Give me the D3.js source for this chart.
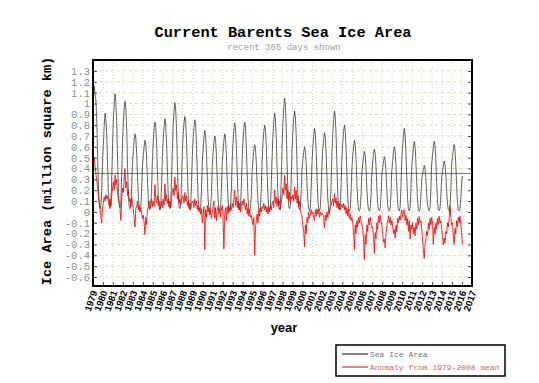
<!DOCTYPE html>
<html>
<head>
<meta charset="utf-8">
<script src="https://cdn.jsdelivr.net/npm/d3@7"></script>
<style>
  body { margin: 0; background: #fff; }
  svg { display: block; }
</style>
</head>
<body>
<svg id="chart" width="539" height="383"></svg>
<script>
const startYear = 1979;
const yearTicks = [1979, 1980, 1981, 1982, 1983, 1984, 1985, 1986, 1987, 1988, 1989,
  1990, 1991, 1992, 1993, 1994, 1995, 1996, 1997, 1998, 1999, 2000, 2001, 2002, 2003,
  2004, 2005, 2006, 2007, 2008, 2009, 2010, 2011, 2012, 2013, 2014, 2015, 2016, 2017];
const valueTicks = [-0.6, -0.5, -0.4, -0.3, -0.2, -0.1, 0, 0.1, 0.2, 0.3, 0.4, 0.5,
  0.6, 0.7, 0.8, 0.9, 1, 1.1, 1.2, 1.3];
const meanArea = 0.355;

// monthly sea ice area (million km2), one row per year, Jan 1979 .. Jan 2016
const iceArea = [
  1.10, 1.16, 1.08, 1.03, 0.85, 0.55, 0.25, 0.08, 0.03, 0.05, 0.20, 0.45, // 1979
  0.62, 0.80, 0.91, 0.86, 0.72, 0.45, 0.20, 0.06, 0.03, 0.06, 0.30, 0.60, // 1980
  0.85, 0.98, 1.09, 1.02, 0.82, 0.50, 0.22, 0.07, 0.04, 0.08, 0.35, 0.65, // 1981
  0.82, 0.95, 1.02, 0.96, 0.78, 0.45, 0.18, 0.05, 0.03, 0.05, 0.22, 0.45, // 1982
  0.55, 0.66, 0.72, 0.68, 0.55, 0.35, 0.15, 0.04, 0.02, 0.04, 0.20, 0.42, // 1983
  0.52, 0.60, 0.66, 0.62, 0.50, 0.30, 0.12, 0.03, 0.02, 0.05, 0.22, 0.48, // 1984
  0.65, 0.76, 0.83, 0.78, 0.62, 0.38, 0.16, 0.04, 0.02, 0.05, 0.25, 0.50, // 1985
  0.68, 0.78, 0.86, 0.80, 0.64, 0.40, 0.17, 0.05, 0.03, 0.06, 0.30, 0.58, // 1986
  0.80, 0.92, 1.01, 0.95, 0.76, 0.45, 0.18, 0.05, 0.03, 0.06, 0.28, 0.55, // 1987
  0.72, 0.82, 0.88, 0.83, 0.66, 0.40, 0.16, 0.04, 0.02, 0.05, 0.26, 0.52, // 1988
  0.68, 0.78, 0.85, 0.80, 0.62, 0.36, 0.14, 0.03, 0.02, 0.04, 0.20, 0.45, // 1989
  0.58, 0.68, 0.75, 0.70, 0.55, 0.32, 0.12, 0.03, 0.01, 0.03, 0.18, 0.42, // 1990
  0.55, 0.64, 0.70, 0.66, 0.52, 0.30, 0.12, 0.03, 0.01, 0.04, 0.20, 0.45, // 1991
  0.56, 0.66, 0.72, 0.67, 0.52, 0.30, 0.11, 0.03, 0.01, 0.04, 0.22, 0.48, // 1992
  0.64, 0.75, 0.82, 0.78, 0.60, 0.36, 0.14, 0.04, 0.02, 0.05, 0.24, 0.50, // 1993
  0.66, 0.77, 0.83, 0.78, 0.60, 0.35, 0.13, 0.03, 0.01, 0.03, 0.16, 0.38, // 1994
  0.48, 0.57, 0.62, 0.58, 0.45, 0.26, 0.10, 0.02, 0.01, 0.04, 0.22, 0.48, // 1995
  0.64, 0.74, 0.80, 0.76, 0.60, 0.36, 0.14, 0.04, 0.02, 0.05, 0.25, 0.52, // 1996
  0.70, 0.82, 0.91, 0.86, 0.68, 0.40, 0.16, 0.05, 0.02, 0.06, 0.30, 0.60, // 1997
  0.82, 0.96, 1.05, 0.98, 0.78, 0.46, 0.18, 0.05, 0.03, 0.06, 0.30, 0.58, // 1998
  0.75, 0.86, 0.93, 0.88, 0.70, 0.42, 0.16, 0.04, 0.02, 0.04, 0.20, 0.40, // 1999
  0.48, 0.55, 0.60, 0.56, 0.44, 0.26, 0.10, 0.03, 0.01, 0.04, 0.22, 0.46, // 2000
  0.60, 0.70, 0.77, 0.72, 0.56, 0.33, 0.13, 0.03, 0.01, 0.04, 0.20, 0.44, // 2001
  0.58, 0.67, 0.73, 0.69, 0.54, 0.32, 0.12, 0.03, 0.01, 0.05, 0.26, 0.55, // 2002
  0.72, 0.85, 0.93, 0.88, 0.70, 0.42, 0.16, 0.04, 0.02, 0.05, 0.25, 0.50, // 2003
  0.64, 0.74, 0.80, 0.75, 0.58, 0.34, 0.13, 0.03, 0.01, 0.03, 0.18, 0.40, // 2004
  0.52, 0.60, 0.66, 0.62, 0.48, 0.27, 0.10, 0.02, 0.01, 0.03, 0.16, 0.36, // 2005
  0.44, 0.51, 0.56, 0.52, 0.40, 0.22, 0.08, 0.02, 0.01, 0.03, 0.16, 0.36, // 2006
  0.46, 0.53, 0.58, 0.54, 0.42, 0.23, 0.08, 0.02, 0.01, 0.03, 0.15, 0.34, // 2007
  0.40, 0.46, 0.51, 0.48, 0.37, 0.20, 0.07, 0.02, 0.01, 0.03, 0.17, 0.38, // 2008
  0.47, 0.55, 0.60, 0.56, 0.43, 0.24, 0.09, 0.02, 0.01, 0.04, 0.22, 0.48, // 2009
  0.60, 0.70, 0.77, 0.72, 0.55, 0.32, 0.12, 0.03, 0.01, 0.04, 0.20, 0.42, // 2010
  0.50, 0.59, 0.65, 0.61, 0.47, 0.27, 0.10, 0.02, 0.01, 0.03, 0.14, 0.30, // 2011
  0.34, 0.39, 0.43, 0.40, 0.31, 0.17, 0.06, 0.02, 0.01, 0.04, 0.20, 0.45, // 2012
  0.52, 0.60, 0.65, 0.61, 0.47, 0.27, 0.10, 0.02, 0.01, 0.03, 0.15, 0.32, // 2013
  0.37, 0.43, 0.47, 0.44, 0.34, 0.19, 0.07, 0.02, 0.01, 0.04, 0.20, 0.44, // 2014
  0.50, 0.57, 0.62, 0.58, 0.44, 0.25, 0.09, 0.02, 0.01, 0.03, 0.13, 0.26, // 2015
  0.33                                                                    // 2016
];

// monthly anomaly from the 1979-2008 mean, same months
const anomaly = [
  0.45, 0.50, 0.42, 0.35, 0.30, 0.22, 0.15, 0.08, 0.02, -0.05, -0.10, 0.05,   // 1979
  0.08, 0.14, 0.10, 0.16, 0.12, 0.15, 0.10, 0.06, 0.12, 0.05, 0.15, 0.22,     // 1980
  0.28, 0.20, 0.34, 0.25, 0.30, 0.18, 0.12, 0.08, 0.03, -0.08, 0.12, 0.22,    // 1981
  0.18, 0.30, 0.40, 0.22, 0.28, 0.15, 0.20, 0.10, 0.12, 0.05, 0.14, 0.08,     // 1982
  0.02, -0.05, -0.14, 0.03, 0.05, 0.10, 0.02, 0.06, 0.00, 0.04, -0.02, -0.06, // 1983
  -0.03, -0.10, -0.21, -0.05, -0.12, 0.02, 0.05, 0.10, 0.03, 0.06, 0.12, 0.05, // 1984
  0.10, 0.05, 0.25, 0.12, 0.08, 0.15, 0.06, 0.10, 0.02, 0.05, 0.10, 0.04,     // 1985
  0.12, 0.06, 0.26, 0.10, 0.16, 0.08, 0.12, 0.05, 0.10, 0.04, 0.14, 0.18,     // 1986
  0.22, 0.15, 0.32, 0.20, 0.25, 0.12, 0.18, 0.08, 0.12, 0.06, 0.10, 0.15,     // 1987
  0.14, 0.08, 0.18, 0.10, 0.15, 0.06, 0.10, 0.04, 0.08, 0.02, 0.07, 0.10,     // 1988
  0.10, 0.04, 0.12, 0.06, 0.10, 0.02, 0.06, 0.00, 0.04, -0.02, 0.03, -0.10,   // 1989
  -0.02, 0.05, -0.35, 0.02, -0.05, 0.06, 0.00, 0.04, -0.03, 0.02, -0.06, 0.00, // 1990
  0.05, 0.10, -0.06, 0.04, -0.08, 0.02, 0.05, -0.02, 0.03, -0.05, 0.02, 0.06, // 1991
  -0.04, -0.34, -0.02, 0.04, -0.08, 0.05, -0.02, 0.06, 0.00, 0.04, 0.02, 0.08, // 1992
  0.04, 0.12, 0.20, 0.06, 0.14, 0.04, 0.10, 0.02, 0.08, 0.00, 0.06, 0.10,     // 1993
  0.06, 0.12, 0.07, 0.02, 0.08, -0.02, 0.04, -0.04, 0.02, -0.05, -0.03, -0.08, // 1994
  -0.12, -0.05, -0.40, -0.15, -0.08, -0.02, -0.10, 0.02, -0.04, 0.04, 0.00, 0.05, // 1995
  0.03, 0.08, 0.02, 0.06, 0.00, 0.05, -0.02, 0.04, 0.00, 0.06, 0.02, 0.08,    // 1996
  0.10, 0.04, 0.20, 0.08, 0.14, 0.05, 0.12, 0.06, 0.10, 0.02, 0.09, 0.15,     // 1997
  0.22, 0.16, 0.34, 0.20, 0.26, 0.12, 0.20, 0.10, 0.18, 0.08, 0.14, 0.12,     // 1998
  0.16, 0.10, 0.23, 0.12, 0.20, 0.08, 0.15, 0.05, 0.10, 0.02, -0.02, -0.05,   // 1999
  -0.12, -0.18, -0.32, -0.12, -0.20, -0.05, -0.10, 0.00, -0.06, -0.02, 0.02, -0.02, // 2000
  0.00, -0.05, -0.08, 0.02, -0.04, 0.03, -0.02, 0.02, -0.05, 0.00, -0.03, -0.01, // 2001
  -0.02, -0.06, -0.15, -0.03, -0.08, 0.00, -0.05, 0.02, -0.02, 0.04, 0.06, 0.10, // 2002
  0.12, 0.05, 0.17, 0.08, 0.13, 0.04, 0.10, 0.03, 0.08, 0.02, 0.05, 0.07,     // 2003
  0.04, 0.08, 0.02, 0.06, -0.02, 0.04, -0.04, 0.02, -0.06, -0.02, -0.08, -0.05, // 2004
  -0.10, -0.18, -0.35, -0.12, -0.20, -0.08, -0.14, -0.05, -0.10, -0.04, -0.08, -0.12, // 2005
  -0.16, -0.25, -0.44, -0.21, -0.30, -0.12, -0.18, -0.06, -0.12, -0.05, -0.10, -0.15, // 2006
  -0.14, -0.22, -0.38, -0.19, -0.25, -0.10, -0.16, -0.04, -0.10, -0.03, -0.08, -0.12, // 2007
  -0.20, -0.28, -0.25, -0.33, -0.20, -0.14, -0.08, -0.04, -0.10, -0.05, -0.12, -0.08, // 2008
  -0.13, -0.20, -0.16, -0.24, -0.12, -0.18, -0.06, -0.10, -0.04, -0.08, -0.02, 0.02, // 2009
  -0.05, 0.00, 0.02, -0.08, -0.03, -0.12, -0.06, -0.18, -0.08, -0.25, -0.12, -0.16, // 2010
  -0.10, -0.20, -0.14, -0.22, -0.10, -0.16, -0.06, -0.12, -0.04, -0.10, -0.08, -0.15, // 2011
  -0.26, -0.35, -0.43, -0.30, -0.26, -0.18, -0.22, -0.10, -0.16, -0.06, -0.12, -0.05, // 2012
  -0.10, -0.30, -0.14, -0.20, -0.10, -0.16, -0.06, -0.12, -0.04, -0.10, -0.08, -0.15, // 2013
  -0.23, -0.30, -0.24, -0.29, -0.18, -0.20, -0.10, -0.14, -0.06, 0.06, -0.05, -0.12, // 2014
  -0.10, -0.22, -0.30, -0.15, -0.20, -0.08, -0.14, -0.05, -0.10, -0.04, -0.12, -0.19, // 2015
  -0.30                                                                        // 2016
];

const width = 539, height = 383;
const margin = { top: 60, right: 67, bottom: 97, left: 93 };
const mono = '"Courier New", "Liberation Mono", monospace';
const sans = 'Arial, "Liberation Sans", Helvetica, sans-serif';

const svg = d3.select('#chart');

const x = d3.scaleLinear()
    .domain([yearTicks[0], yearTicks[yearTicks.length - 1]])
    .range([margin.left, width - margin.right]);

const y = d3.scaleLinear()
    .domain([-0.683, 1.401])
    .range([height - margin.bottom, margin.top]);

const monthX = i => x(startYear + (i + 0.5) / 12);

// grid
const grid = svg.append('g');
grid.selectAll('.vgrid')
    .data(yearTicks)
    .enter().append('line')
    .attr('x1', d => x(d)).attr('x2', d => x(d))
    .attr('y1', y.range()[1]).attr('y2', y.range()[0])
    .attr('stroke', '#c4c4c4')
    .attr('stroke-width', 0.8)
    .attr('stroke-dasharray', '1,2');

grid.selectAll('.hgrid')
    .data(valueTicks)
    .enter().append('line')
    .attr('x1', x.range()[0]).attr('x2', x.range()[1])
    .attr('y1', d => y(d)).attr('y2', d => y(d))
    .attr('stroke', '#e6d488')
    .attr('stroke-width', 0.8)
    .attr('stroke-dasharray', '3,3');

// mean line
svg.append('line')
    .attr('x1', x.range()[0]).attr('x2', x.range()[1])
    .attr('y1', y(meanArea)).attr('y2', y(meanArea))
    .attr('stroke', '#555')
    .attr('stroke-width', 0.8);

// series
const line = d3.line()
    .x((d, i) => monthX(i))
    .y(d => y(d));

svg.append('path')
    .datum(iceArea)
    .attr('d', line)
    .attr('fill', 'none')
    .attr('stroke', '#222')
    .attr('stroke-width', 0.7);

svg.append('path')
    .datum(anomaly)
    .attr('d', line)
    .attr('fill', 'none')
    .attr('stroke', '#e80000')
    .attr('stroke-width', 0.8);

// axes
const fmt = d => String(+d.toFixed(1));

const yAxis = svg.append('g')
    .attr('transform', `translate(${margin.left},0)`)
    .call(d3.axisLeft(y).tickValues(valueTicks).tickSize(-4).tickPadding(3).tickFormat(fmt));
yAxis.select('.domain').remove();
yAxis.selectAll('line').attr('stroke', '#444');
yAxis.selectAll('text')
    .style('font-family', mono)
    .style('font-size', '10.5px')
    .attr('fill', '#8a8a8a');

const yAxisRight = svg.append('g')
    .attr('transform', `translate(${width - margin.right},0)`)
    .call(d3.axisRight(y).tickValues(valueTicks).tickSize(-4).tickFormat(''));
yAxisRight.select('.domain').remove();
yAxisRight.selectAll('line').attr('stroke', '#444');

const xAxis = svg.append('g')
    .attr('transform', `translate(0,${height - margin.bottom})`)
    .call(d3.axisBottom(x).tickValues(yearTicks).tickSize(-4).tickFormat(d3.format('d')));
xAxis.select('.domain').remove();
xAxis.selectAll('line').attr('stroke', '#444');
xAxis.selectAll('text')
    .attr('y', 0)
    .attr('dy', '0.35em')
    .attr('text-anchor', 'end')
    .attr('transform', 'translate(1,5) rotate(-70)')
    .style('font-family', sans)
    .style('font-weight', 'bold')
    .style('font-size', '9.5px')
    .attr('fill', '#000');

// frame
svg.append('rect')
    .attr('x', x.range()[0]).attr('y', y.range()[1])
    .attr('width', x.range()[1] - x.range()[0])
    .attr('height', y.range()[0] - y.range()[1])
    .attr('fill', 'none')
    .attr('stroke', '#000')
    .attr('stroke-width', 2);

// titles
svg.append('text')
    .attr('x', 283).attr('y', 37)
    .attr('text-anchor', 'middle')
    .style('font-family', mono)
    .style('font-weight', 'bold')
    .style('font-size', '15.3px')
    .text('Current Barents Sea Ice Area');

svg.append('text')
    .attr('x', 284).attr('y', 50)
    .attr('text-anchor', 'middle')
    .style('font-family', mono)
    .style('font-size', '9px')
    .attr('fill', '#999')
    .text('recent 365 days shown');

svg.append('text')
    .attr('transform', 'translate(51,171) rotate(-90)')
    .attr('text-anchor', 'middle')
    .style('font-family', mono)
    .style('font-weight', 'bold')
    .style('font-size', '13.6px')
    .text('Ice Area (million square km)');

svg.append('text')
    .attr('x', 284).attr('y', 332)
    .attr('text-anchor', 'middle')
    .style('font-family', sans)
    .style('font-weight', 'bold')
    .style('font-size', '13px')
    .text('year');

// legend
const legendItems = [
    { label: 'Sea Ice Area', color: '#111', text: '#777' },
    { label: 'Anomaly from 1979-2008 mean', color: '#e80000', text: '#d06060' }
];
const legend = svg.append('g').attr('transform', 'translate(336,345)');
legend.append('rect')
    .attr('width', 169).attr('height', 31)
    .attr('fill', '#fff')
    .attr('stroke', '#000')
    .attr('stroke-width', 1.5);
const li = legend.selectAll('.item')
    .data(legendItems)
    .enter().append('g')
    .attr('transform', (d, i) => `translate(0,${9 + i * 13})`);
li.append('line')
    .attr('x1', 6).attr('x2', 32)
    .attr('stroke', d => d.color)
    .attr('stroke-width', 1);
li.append('text')
    .attr('x', 34).attr('y', 3)
    .style('font-family', mono)
    .style('font-size', '8px')
    .attr('fill', d => d.text)
    .text(d => d.label);
</script>
</body>
</html>
